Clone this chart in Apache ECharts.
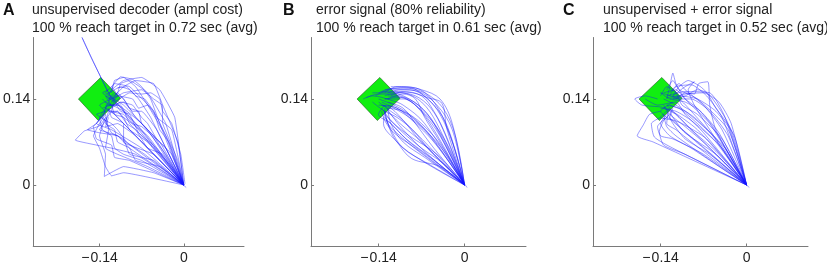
<!DOCTYPE html>
<html>
<head>
<meta charset="utf-8">
<script src="https://cdn.jsdelivr.net/npm/echarts@6/dist/echarts.min.js"></script>
<style>
  html, body { margin: 0; padding: 0; background: #fff; }
  #reachCharts { width: 827px; height: 266px; }
</style>
</head>
<body>
<div id="reachCharts"></div>
<script>
// panel titles
let panelLetters = ["A", "B", "C"];
let titleLines1 = ["unsupervised decoder (ampl cost)", "error signal (80% reliability)", "unsupervised + error signal"];
let titleLines2 = ["100 % reach target in 0.72 sec (avg)", "100 % reach target in 0.61 sec (avg)", "100 % reach target in 0.52 sec (avg)"];

// tick values
let xTicks = [-0.14, 0];
let yTicks = [0, 0.14];

// target diamond (x, y)
let target = [[-0.175, 0.14], [-0.138, 0.175], [-0.105, 0.141], [-0.142, 0.105]];

// trajectories, panel A
let trajA = [
  [[0,0],[-0.03,0.05],[-0.07,0.1],[-0.11,0.13],[-0.125,0.13]],
  [[0,0],[-0.04,0.04],[-0.08,0.08],[-0.12,0.12],[-0.13,0.125]],
  [[0,0],[-0.02,0.06],[-0.05,0.12],[-0.09,0.16],[-0.115,0.165],[-0.125,0.145]],
  [[0,0],[-0.01,0.07],[-0.035,0.13],[-0.05,0.165],[-0.08,0.17],[-0.1,0.16],[-0.12,0.14]],
  [[0.002,0.002],[-0.005,0.05],[-0.02,0.1],[-0.035,0.12],[-0.04,0.14],[-0.055,0.15],[-0.07,0.148],[-0.09,0.15],[-0.115,0.135]],
  [[0,0],[-0.01,0.04],[-0.035,0.1],[-0.036,0.13],[-0.05,0.14],[-0.07,0.155],[-0.1,0.15],[-0.118,0.14]],
  [[0,0],[-0.05,0.02],[-0.1,0.03],[-0.132,0.014],[-0.13,0.05],[-0.14,0.08],[-0.13,0.11]],
  [[0,0],[-0.06,0.03],[-0.11,0.05],[-0.13,0.06],[-0.125,0.09],[-0.13,0.115]],
  [[0,0],[-0.08,0.05],[-0.12,0.06],[-0.16,0.068],[-0.18,0.073],[-0.165,0.088],[-0.14,0.096],[-0.13,0.11]],
  [[0,0],[-0.05,0.06],[-0.1,0.12],[-0.125,0.15],[-0.15,0.2],[-0.169,0.24],[-0.155,0.21],[-0.13,0.16],[-0.12,0.14]],
  [[0,0],[-0.07,0.06],[-0.12,0.09],[-0.145,0.1],[-0.13,0.12]],
  [[0,0],[-0.06,0.08],[-0.1,0.11],[-0.11,0.12],[-0.125,0.12]],
  [[0,0],[-0.03,0.08],[-0.06,0.13],[-0.08,0.16],[-0.1,0.175],[-0.115,0.17],[-0.12,0.15]],
  [[0,0],[-0.04,0.07],[-0.08,0.11],[-0.1,0.14],[-0.11,0.15],[-0.12,0.135]],
  [[0,0],[-0.05,0.05],[-0.1,0.07],[-0.1,0.1],[-0.12,0.11],[-0.125,0.125]],
  [[0,0],[-0.04,0.03],[-0.08,0.04],[-0.09,0.06],[-0.11,0.07],[-0.115,0.09],[-0.13,0.1],[-0.125,0.12]],
  [[0,0],[-0.02,0.09],[-0.045,0.11],[-0.06,0.13],[-0.075,0.125],[-0.085,0.14],[-0.11,0.145],[-0.125,0.138]],
  [[0,0],[-0.06,0.07],[-0.09,0.1],[-0.105,0.13],[-0.13,0.13]],
  [[0,0],[-0.1,0.02],[-0.12,0.015],[-0.13,0.03],[-0.14,0.06],[-0.15,0.08],[-0.14,0.1],[-0.13,0.115]],
  [[0,0],[-0.03,0.1],[-0.06,0.15],[-0.09,0.17],[-0.105,0.165],[-0.11,0.15],[-0.125,0.14]],
  [[0,0],[-0.07,0.09],[-0.1,0.12],[-0.12,0.13],[-0.135,0.125]],
  [[0,0],[-0.045,0.09],[-0.07,0.12],[-0.085,0.12],[-0.1,0.135],[-0.12,0.13]],
  [[0,0],[-0.08,0.08],[-0.11,0.1],[-0.13,0.095],[-0.125,0.11]],
  [[0,0],[-0.09,0.06],[-0.11,0.08],[-0.14,0.085],[-0.16,0.09],[-0.145,0.1],[-0.13,0.12]],
  [[0,0],[-0.015,0.11],[-0.04,0.155],[-0.07,0.175],[-0.1,0.17],[-0.12,0.155]],
  [[0,0],[-0.06,0.09],[-0.1,0.13],[-0.13,0.15],[-0.12,0.16],[-0.11,0.145],[-0.125,0.13],[-0.135,0.14]],
  [[0,0],[-0.08,0.1],[-0.12,0.14],[-0.14,0.13],[-0.13,0.12],[-0.12,0.125]],
  [[0.004,-0.004],[-0.05,0.04],[-0.09,0.05],[-0.1,0.075],[-0.12,0.085],[-0.13,0.105],[-0.12,0.12]],
  [[0,0],[-0.02,0.03],[-0.06,0.07],[-0.09,0.09],[-0.1,0.11],[-0.115,0.115],[-0.12,0.13],[-0.13,0.135]],
  [[0,0],[-0.05,0.08],[-0.07,0.1],[-0.075,0.12],[-0.09,0.125],[-0.1,0.14],[-0.115,0.15],[-0.125,0.14]],
  [[0,0],[-0.025,0.07],[-0.04,0.09],[-0.05,0.12],[-0.065,0.14],[-0.08,0.145],[-0.095,0.16],[-0.11,0.158]],
  [[0,0],[-0.07,0.04],[-0.1,0.05],[-0.115,0.06],[-0.12,0.08],[-0.135,0.09],[-0.14,0.11],[-0.13,0.125]],
  [[0,0],[-0.035,0.05],[-0.06,0.06],[-0.08,0.09],[-0.095,0.1],[-0.11,0.12],[-0.12,0.118]],
  [[0,0],[-0.055,0.11],[-0.075,0.14],[-0.09,0.155],[-0.105,0.16],[-0.115,0.155],[-0.128,0.148]],
  [[0,0],[-0.09,0.04],[-0.115,0.045],[-0.12,0.065],[-0.145,0.075],[-0.15,0.095],[-0.135,0.11]],
  [[0,0],[-0.045,0.06],[-0.075,0.085],[-0.09,0.115],[-0.105,0.12],[-0.115,0.135],[-0.13,0.145],[-0.12,0.128]],
  [[0,0],[-0.02,0.05],[-0.045,0.075],[-0.06,0.1],[-0.07,0.11],[-0.085,0.13],[-0.105,0.135],[-0.12,0.125]],
  [[0,0],[-0.065,0.05],[-0.095,0.07],[-0.11,0.09],[-0.12,0.1],[-0.135,0.108],[-0.128,0.13]],
  [[0,0],[-0.04,0.1],[-0.055,0.14],[-0.07,0.16],[-0.085,0.172],[-0.105,0.176],[-0.12,0.16]],
  [[0,0],[-0.1,0.1],[-0.115,0.115],[-0.13,0.125],[-0.122,0.14],[-0.135,0.15],[-0.125,0.155]],
  [[0,0],[-0.11,0.08],[-0.125,0.085],[-0.14,0.09],[-0.13,0.105],[-0.145,0.115],[-0.13,0.12]],
  [[0,0],[-0.03,0.06],[-0.07,0.095],[-0.085,0.1],[-0.1,0.115],[-0.12,0.12],[-0.115,0.14]]
];

// trajectories, panel B
let trajB = [
  [[0,0],[-0.029,0.092],[-0.037,0.133],[-0.06,0.142],[-0.085,0.15],[-0.115,0.152]],
  [[0,0],[-0.04,0.03],[-0.086,0.043],[-0.11,0.07],[-0.132,0.1],[-0.13,0.12]],
  [[0,0],[-0.03,0.08],[-0.05,0.12],[-0.07,0.145],[-0.1,0.152],[-0.12,0.145]],
  [[0,0],[-0.04,0.07],[-0.065,0.11],[-0.08,0.14],[-0.1,0.148],[-0.125,0.14]],
  [[0,0],[-0.05,0.06],[-0.08,0.1],[-0.1,0.125],[-0.125,0.135]],
  [[0,0],[-0.06,0.05],[-0.1,0.09],[-0.12,0.115],[-0.13,0.13]],
  [[0,0],[-0.07,0.04],[-0.11,0.07],[-0.125,0.1],[-0.13,0.125]],
  [[0,0],[-0.035,0.06],[-0.07,0.1],[-0.1,0.12],[-0.125,0.125]],
  [[0,0],[-0.02,0.09],[-0.045,0.13],[-0.075,0.152],[-0.105,0.155],[-0.125,0.15]],
  [[0,0],[-0.055,0.08],[-0.09,0.115],[-0.115,0.13],[-0.14,0.14]],
  [[0,0],[-0.045,0.05],[-0.09,0.08],[-0.115,0.1],[-0.13,0.115]],
  [[0,0],[-0.03,0.1],[-0.06,0.14],[-0.09,0.155],[-0.12,0.155],[-0.145,0.145]],
  [[0,0],[-0.06,0.035],[-0.1,0.06],[-0.12,0.09],[-0.128,0.11]],
  [[0,0],[-0.05,0.09],[-0.08,0.13],[-0.1,0.14],[-0.13,0.14]],
  [[0,0],[-0.035,0.09],[-0.055,0.125],[-0.08,0.145],[-0.11,0.15],[-0.13,0.145]],
  [[0,0],[-0.07,0.07],[-0.105,0.1],[-0.125,0.12]],
  [[0,0],[-0.02,0.07],[-0.04,0.115],[-0.06,0.14],[-0.09,0.158],[-0.12,0.157],[-0.14,0.15]],
  [[0,0],[-0.08,0.06],[-0.115,0.085],[-0.13,0.105],[-0.135,0.12]],
  [[0,0],[-0.045,0.1],[-0.07,0.135],[-0.1,0.15],[-0.135,0.152]],
  [[0,0],[-0.065,0.1],[-0.1,0.13],[-0.12,0.138],[-0.15,0.145],[-0.165,0.14]],
  [[0,0],[-0.04,0.04],[-0.075,0.075],[-0.1,0.105],[-0.12,0.12],[-0.14,0.135]],
  [[0,0],[-0.025,0.085],[-0.05,0.135],[-0.08,0.158],[-0.11,0.16],[-0.13,0.15]],
  [[0.004,-0.004],[-0.05,0.07],[-0.085,0.105],[-0.11,0.125],[-0.135,0.13]],
  [[0,0],[-0.055,0.045],[-0.095,0.075],[-0.12,0.1],[-0.14,0.115],[-0.13,0.13]],
  [[0,0],[-0.03,0.05],[-0.06,0.085],[-0.09,0.11],[-0.115,0.125],[-0.135,0.135]],
  [[0,0],[-0.05,0.04],[-0.09,0.07],[-0.115,0.095],[-0.13,0.11]],
  [[0,0],[-0.04,0.08],[-0.07,0.12],[-0.095,0.14],[-0.125,0.145]],
  [[0,0],[-0.025,0.06],[-0.05,0.1],[-0.08,0.13],[-0.105,0.143],[-0.13,0.14]],
  [[0,0],[-0.06,0.065],[-0.095,0.1],[-0.12,0.125],[-0.14,0.13]],
  [[0,0],[-0.075,0.055],[-0.105,0.08],[-0.125,0.1],[-0.13,0.12]],
  [[0,0],[-0.035,0.075],[-0.06,0.115],[-0.09,0.14],[-0.12,0.15],[-0.15,0.15]],
  [[0,0],[-0.045,0.065],[-0.08,0.105],[-0.11,0.125],[-0.125,0.13]],
  [[0,0],[-0.015,0.08],[-0.035,0.125],[-0.065,0.15],[-0.1,0.158],[-0.13,0.155]],
  [[0,0],[-0.055,0.055],[-0.085,0.09],[-0.11,0.11],[-0.13,0.12],[-0.15,0.135]],
  [[0,0],[-0.065,0.045],[-0.1,0.07],[-0.12,0.1],[-0.125,0.125]],
  [[0,0],[-0.035,0.035],[-0.07,0.06],[-0.1,0.085],[-0.12,0.105],[-0.135,0.125]],
  [[0,0],[-0.05,0.1],[-0.075,0.13],[-0.105,0.145],[-0.14,0.148],[-0.16,0.142]],
  [[0,0],[-0.02,0.1],[-0.04,0.14],[-0.07,0.155],[-0.1,0.16],[-0.12,0.16]]
];

// trajectories, panel C
let trajC = [
  [[0,0],[-0.05,0.09],[-0.06,0.13],[-0.063,0.168],[-0.078,0.165],[-0.085,0.148],[-0.1,0.15],[-0.115,0.14]],
  [[0,0],[-0.152,0.07],[-0.178,0.08],[-0.168,0.098],[-0.158,0.115],[-0.14,0.12]],
  [[0,0],[-0.06,0.1],[-0.1,0.14],[-0.115,0.165],[-0.12,0.182],[-0.125,0.16],[-0.13,0.14]],
  [[0,0],[-0.06,0.09],[-0.085,0.13],[-0.095,0.155],[-0.085,0.168],[-0.1,0.16],[-0.12,0.145]],
  [[0,0],[-0.04,0.06],[-0.08,0.1],[-0.11,0.125],[-0.13,0.13]],
  [[0,0],[-0.05,0.05],[-0.1,0.085],[-0.12,0.11],[-0.125,0.12]],
  [[0,0],[-0.07,0.05],[-0.12,0.075],[-0.14,0.08],[-0.145,0.095],[-0.13,0.11]],
  [[0,0],[-0.1,0.05],[-0.135,0.065],[-0.142,0.087],[-0.135,0.105],[-0.125,0.115]],
  [[0,0],[-0.03,0.08],[-0.06,0.12],[-0.09,0.14],[-0.12,0.14]],
  [[0,0],[-0.045,0.07],[-0.085,0.11],[-0.115,0.13],[-0.135,0.14]],
  [[0,0],[-0.025,0.1],[-0.045,0.135],[-0.07,0.15],[-0.1,0.148],[-0.125,0.14]],
  [[0,0],[-0.06,0.06],[-0.1,0.1],[-0.12,0.12],[-0.13,0.13]],
  [[0,0],[-0.08,0.07],[-0.11,0.095],[-0.125,0.11],[-0.12,0.125]],
  [[0,0],[-0.035,0.11],[-0.06,0.15],[-0.1,0.152],[-0.13,0.145]],
  [[0,0],[-0.055,0.08],[-0.09,0.12],[-0.11,0.14],[-0.14,0.15]],
  [[0,0],[-0.07,0.085],[-0.1,0.115],[-0.115,0.135],[-0.145,0.13],[-0.165,0.14]],
  [[0,0],[-0.09,0.07],[-0.115,0.09],[-0.13,0.1],[-0.128,0.118]],
  [[0,0],[-0.04,0.09],[-0.07,0.13],[-0.1,0.155],[-0.11,0.165],[-0.125,0.15]],
  [[0,0],[-0.065,0.075],[-0.105,0.1],[-0.13,0.11],[-0.14,0.12],[-0.12,0.135]],
  [[0,0],[-0.12,0.06],[-0.15,0.078],[-0.155,0.1],[-0.14,0.11]],
  [[0,0],[-0.03,0.09],[-0.08,0.14],[-0.11,0.155],[-0.12,0.17],[-0.13,0.155]],
  [[0,0],[-0.08,0.09],[-0.13,0.125],[-0.17,0.13],[-0.182,0.14],[-0.165,0.145],[-0.145,0.14]],
  [[0.004,-0.004],[-0.05,0.055],[-0.09,0.09],[-0.115,0.115],[-0.135,0.125]],
  [[0,0],[-0.035,0.06],[-0.07,0.095],[-0.1,0.12],[-0.125,0.13]],
  [[0,0],[-0.05,0.07],[-0.09,0.105],[-0.115,0.12],[-0.14,0.125]],
  [[0,0],[-0.02,0.08],[-0.05,0.12],[-0.08,0.14],[-0.11,0.145],[-0.13,0.142]],
  [[0,0],[-0.06,0.05],[-0.1,0.075],[-0.12,0.1],[-0.13,0.12]],
  [[0,0],[-0.045,0.085],[-0.075,0.12],[-0.1,0.135],[-0.125,0.14],[-0.14,0.15]],
  [[0,0],[-0.08,0.055],[-0.115,0.08],[-0.13,0.095],[-0.135,0.115]],
  [[0,0],[-0.03,0.1],[-0.055,0.14],[-0.075,0.16],[-0.095,0.17],[-0.11,0.16],[-0.12,0.145]],
  [[0,0],[-0.065,0.065],[-0.1,0.095],[-0.125,0.115],[-0.135,0.13]],
  [[0,0],[-0.04,0.075],[-0.08,0.115],[-0.105,0.13],[-0.115,0.15],[-0.13,0.16],[-0.14,0.145]],
  [[0,0],[-0.055,0.095],[-0.08,0.125],[-0.1,0.14],[-0.115,0.155],[-0.135,0.15]],
  [[0,0],[-0.07,0.06],[-0.105,0.09],[-0.12,0.105],[-0.14,0.11],[-0.125,0.125]],
  [[0,0],[-0.025,0.09],[-0.05,0.125],[-0.065,0.15],[-0.08,0.155],[-0.1,0.145],[-0.12,0.14]],
  [[0,0],[-0.09,0.06],[-0.125,0.08],[-0.14,0.1],[-0.13,0.115]],
  [[0,0],[-0.04,0.11],[-0.065,0.145],[-0.09,0.163],[-0.115,0.16],[-0.125,0.145]]
];

let panels = [trajA, trajB, trajC];
let smoothing = [0.1, 0.35, 0.2];
let gridLefts = [29, 311, 593];
let titleLefts = [32, 316, 603];
let letterLefts = [3, 283, 563];

let grids = [], xAxes = [], yAxes = [], titles = [], series = [];
let fmt = function (v) {
  if (Math.abs(v) < 1e-9) return "0";
  return (v < 0 ? "\u2212\u200a" : "") + Math.abs(v).toFixed(2);
};
let fontFam = "Liberation Sans, Arial, sans-serif";

for (let p = 0; p < 3; p++) {
  grids.push({ left: gridLefts[p], top: 37.5, width: 215, height: 209 });
  let axisCommon = {
    type: "value",
    gridIndex: p,
    axisLine: { show: true, onZero: false, lineStyle: { color: "#7a7a7a", width: 1 } },
    axisTick: { show: true, inside: true, length: 3, lineStyle: { color: "#7a7a7a" } },
    splitLine: { show: false },
    axisLabel: { color: "#222", fontSize: 14, fontFamily: fontFam, formatter: fmt }
  };
  xAxes.push(Object.assign({}, axisCommon, {
    min: -0.25, max: 0.1,
    axisLabel: Object.assign({}, axisCommon.axisLabel, { margin: 5, customValues: xTicks }),
    axisTick: Object.assign({}, axisCommon.axisTick, { customValues: xTicks })
  }));
  yAxes.push(Object.assign({}, axisCommon, {
    min: -0.1, max: 0.24,
    axisLabel: Object.assign({}, axisCommon.axisLabel, { margin: 3, customValues: yTicks }),
    axisTick: Object.assign({}, axisCommon.axisTick, { customValues: yTicks })
  }));
  titles.push({
    text: panelLetters[p],
    left: letterLefts[p],
    top: 3,
    padding: 0,
    textStyle: { fontSize: 16, fontWeight: "bold", color: "#111", fontFamily: fontFam }
  });
  titles.push({
    text: titleLines1[p] + "\n" + titleLines2[p],
    left: titleLefts[p],
    top: 1,
    padding: 0,
    textStyle: { fontSize: 14, fontWeight: "normal", color: "#222", lineHeight: 18, fontFamily: fontFam }
  });

  // target diamond
  series.push({
    type: "custom",
    xAxisIndex: p,
    yAxisIndex: p,
    z: 1,
    silent: true,
    data: [[target[0][0], target[0][1]]],
    renderItem: function (params, api) {
      let pts = target.map(function (t) { return api.coord(t); });
      return {
        type: "polygon",
        shape: { points: pts },
        style: { fill: "#11ee11", stroke: "#1f5a1f", lineWidth: 0.6 }
      };
    }
  });

  let trajs = panels[p];
  for (let i = 0; i < trajs.length; i++) {
    series.push({
      type: "line",
      xAxisIndex: p,
      yAxisIndex: p,
      z: 2,
      data: trajs[i],
      showSymbol: false,
      silent: true,
      smooth: smoothing[p],
      lineStyle: { color: "rgba(20, 20, 255, 0.55)", width: 0.8 }
    });
  }
}

let chartsOptions = {
  animation: false,
  backgroundColor: "#fff",
  title: titles,
  grid: grids,
  xAxis: xAxes,
  yAxis: yAxes,
  series: series
};

let dataCharts = echarts.init(document.getElementById("reachCharts"));
dataCharts.setOption(chartsOptions);
</script>
</body>
</html>
